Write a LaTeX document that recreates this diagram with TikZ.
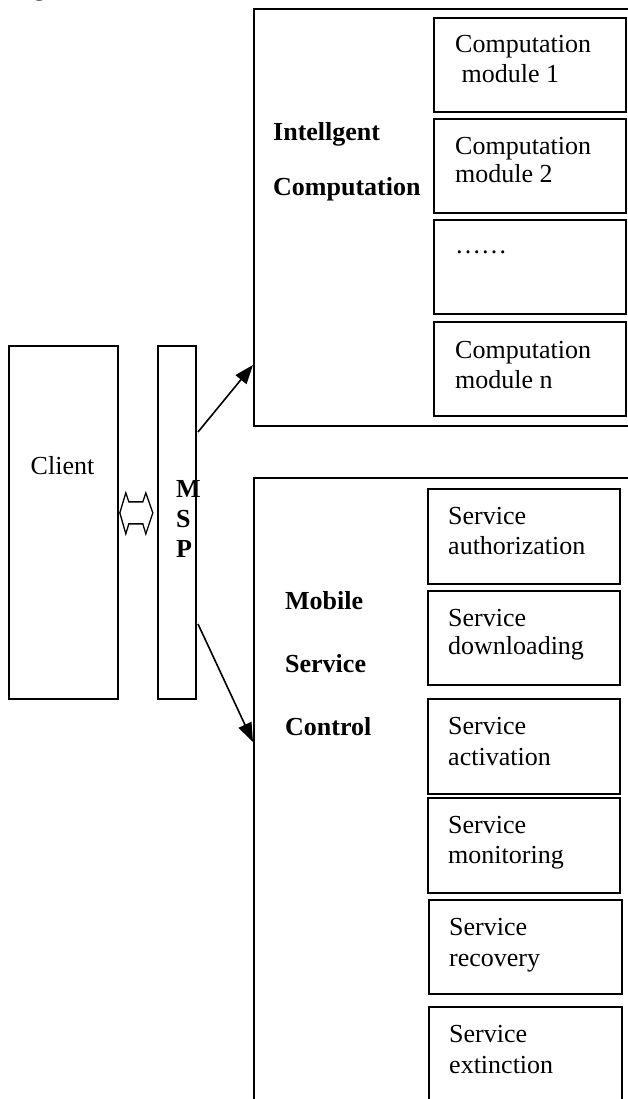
\documentclass[tikz,border=0pt]{standalone}
\usepackage{fontspec}
\setmainfont{Liberation Serif}
\usetikzlibrary{calc,arrows.meta}
\tikzset{
  frame/.style={draw, line width=1.7pt, rectangle, inner sep=0pt, anchor=north west},
  modbox/.style={frame, minimum width=192pt, minimum height=94pt},
  txt/.style={inner sep=0pt, anchor=base west, font=\fontsize{26}{30}\selectfont},
  btxt/.style={txt, font=\fontsize{26}{30}\selectfont\bfseries},
  link/.style={line width=1.6pt, -{Triangle[length=19pt,width=14pt]}},
}
\begin{document}
\begin{tikzpicture}[x=1pt,y=-1pt]
\useasboundingbox (0,0) rectangle (627,1099);
\fill[white] (0,0) rectangle (627,1099);

% caption fragment from the preceding text line
\node[txt] (frag) at (20,-4) {ng.,};

% intelligent computation block
\node[frame, minimum width=420pt, minimum height=417pt] (ic) at (253,8) {};
\node[btxt] (ic1) at (273,141) {Intellgent};
\node[btxt] (ic2) at (273,196) {Computation};

\node[modbox] (m1) at (433,17) {};
\node[txt] at (455,53) {Computation};
\node[txt] at (455,83) {\ module 1};
\node[modbox] (m2) at (433,118) {};
\node[txt] at (455,155) {Computation};
\node[txt] at (455,183) {module 2};
\node[modbox] (m3) at (433,219) {};
\node[txt] at (455,253) {……};
\node[modbox] (mn) at (433,321) {};
\node[txt] at (455,358) {Computation};
\node[txt] at (455,388) {module n};

% mobile service control block
\node[frame, minimum width=420pt, minimum height=700pt] (msc) at (253,477) {};
\node[btxt] (msc1) at (285,609) {Mobile};
\node[btxt] (msc2) at (285,672) {Service};
\node[btxt] (msc3) at (285,735) {Control};

\node[frame, minimum width=192pt, minimum height=95pt] (s1) at (427,488) {};
\node[txt] at (448,524) {Service};
\node[txt] at (448,554) {authorization};
\node[frame, minimum width=192pt, minimum height=94pt] (s2) at (427,590) {};
\node[txt] at (448,626) {Service};
\node[txt] at (448,654) {downloading};
\node[frame, minimum width=192pt, minimum height=95pt] (s3) at (427,698) {};
\node[txt] at (448,734) {Service};
\node[txt] at (448,765) {activation};
\node[frame, minimum width=192pt, minimum height=95pt] (s4) at (427,797) {};
\node[txt] at (448,833) {Service};
\node[txt] at (448,863) {monitoring};
\node[frame, minimum width=193pt, minimum height=94pt] (s5) at (428,899) {};
\node[txt] at (449,935) {Service};
\node[txt] at (449,966) {recovery};
\node[frame, minimum width=193pt, minimum height=120pt] (s6) at (428,1006) {};
\node[txt] at (449,1042) {Service};
\node[txt] at (449,1073) {extinction};

% client and platform
\node[frame, minimum width=109pt, minimum height=353pt] (client) at (8,345) {};
\node[txt, anchor=base] at (62.5,474) {Client};
\node[frame, minimum width=38pt, minimum height=353pt] (msp) at (157,345) {};
\node[btxt] at (176,497) {M};
\node[btxt] at (176,527) {S};
\node[btxt] at (176,557) {P};

% two-way exchange between client and platform
\coordinate (x) at ($(client.east)!0.46!(msp.west)+(0,-9.5)$);
\draw[line width=1.3pt, line join=miter]
  ($(x)+(-16.5,0)$) -- ++(6,-20) -- ++(3,9) -- ++(14,0) -- ++(3,-9)
  -- ++(7,20) -- ++(-7,21) -- ++(-3,-10) -- ++(-14,0) -- ++(-3,10) -- cycle;

% links from the platform to both blocks
\coordinate (a1) at (198,432);
\coordinate (a2) at (198,624);
\draw[link] (a1) -- (ic.west |- 0,365);
\draw[link] (a2) -- (msc.west |- 0,742);
\end{tikzpicture}
\end{document}
